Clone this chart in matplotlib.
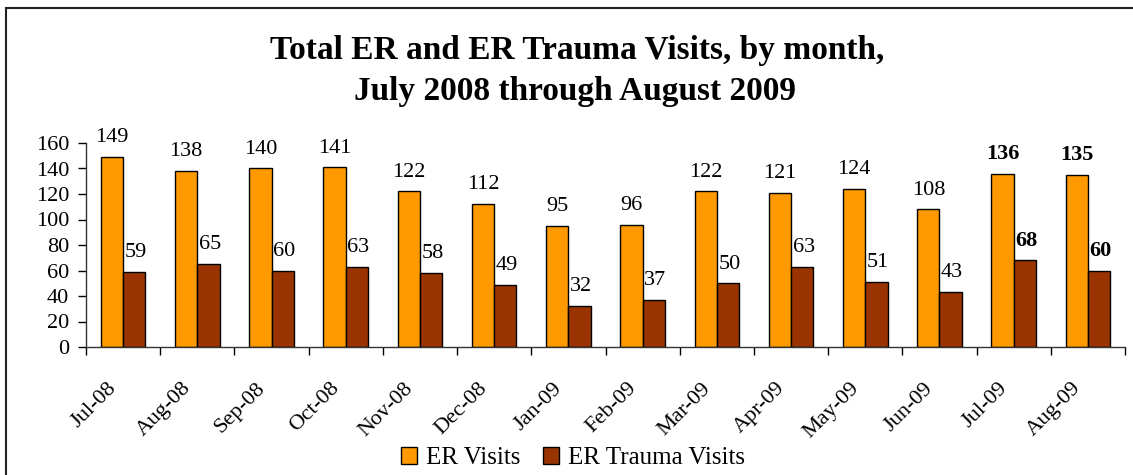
import matplotlib
matplotlib.use("Agg")
import matplotlib.pyplot as plt
import matplotlib.transforms as mtransforms
import numpy as np
from matplotlib.patches import Rectangle

months = ["Jul-08", "Aug-08", "Sep-08", "Oct-08", "Nov-08", "Dec-08", "Jan-09",
          "Feb-09", "Mar-09", "Apr-09", "May-09", "Jun-09", "Jul-09", "Aug-09"]
er_visits = [149, 138, 140, 141, 122, 112, 95, 96, 122, 121, 124, 108, 136, 135]
trauma_visits = [59, 65, 60, 63, 58, 49, 32, 37, 50, 63, 51, 43, 68, 60]
bold_months = ["Jul-09", "Aug-09"]

plt.rcParams['font.family'] = ['Liberation Serif', 'DejaVu Serif']

W, H = 1133, 475
fig = plt.figure(figsize=(W / 100, H / 100), dpi=100)
ax = fig.add_axes([86 / W, 1 - 347 / H, (1125 - 86) / W, (347 - 143) / H])

x = np.arange(len(months))
bw = 0.30
b1 = ax.bar(x - bw / 2, er_visits, bw, color="#FF9900", edgecolor="black", linewidth=1.0,
            label="ER Visits")
b2 = ax.bar(x + bw / 2, trauma_visits, bw, color="#993300", edgecolor="black", linewidth=1.0,
            label="ER Trauma Visits")

for i, m in enumerate(months):
    fw = "bold" if m in bold_months else "normal"
    ax.annotate(str(er_visits[i]), (x[i] - bw / 2, er_visits[i]), xytext=(0, 7),
                textcoords="offset points", ha="center", va="bottom", fontsize=16, fontweight=fw)
    ax.annotate(str(trauma_visits[i]), (x[i] + bw / 2 + 0.02, trauma_visits[i]), xytext=(0, 7),
                textcoords="offset points", ha="center", va="bottom", fontsize=16, fontweight=fw)

ax.set_xlim(-0.5, len(months) - 0.5)
ax.set_ylim(0, 160)
ax.set_yticks(np.arange(0, 161, 20))
ax.tick_params(axis="y", labelsize=16, direction="out", length=6, width=1, pad=6)

ax.set_xticks(x)
ax.set_xticklabels(months, rotation=45, ha="right", va="top", rotation_mode="anchor", fontsize=16)
ax.tick_params(axis="x", which="major", length=0, pad=23)
shift = mtransforms.ScaledTranslation(-16 / 100, 0, fig.dpi_scale_trans)
for lbl in ax.get_xticklabels():
    lbl.set_transform(lbl.get_transform() + shift)
ax.set_xticks(np.arange(-0.5, len(months), 1.0), minor=True)
ax.tick_params(axis="x", which="minor", direction="out", length=6, width=1)

for s in ["top", "right"]:
    ax.spines[s].set_visible(False)
for s in ["left", "bottom"]:
    ax.spines[s].set_linewidth(1.0)
    ax.spines[s].set_color("#333333")

fig.text(577 / W, 1 - 59 / H, "Total ER and ER Trauma Visits, by month,", ha="center", va="baseline",
         fontsize=24, fontweight="bold")
fig.text(575 / W, 1 - 100 / H, "July 2008 through August 2009", ha="center", va="baseline",
         fontsize=24, fontweight="bold")

fig.legend(handles=[b1, b2], labels=["ER Visits", "ER Trauma Visits"], loc="center",
           bbox_to_anchor=(573 / W, 1 - 458 / H), ncol=2, frameon=False, fontsize=18,
           handlelength=0.65, handleheight=0.65, handletextpad=0.35, columnspacing=0.9,
           borderpad=0.1)

# frame around chart
fig.add_artist(Rectangle((6 / W, -0.1), 2.0, 1 - 8 / H + 0.1, transform=fig.transFigure,
                         fill=False, edgecolor="#222222", linewidth=1.5))

fig.savefig("out.png", dpi=100)
